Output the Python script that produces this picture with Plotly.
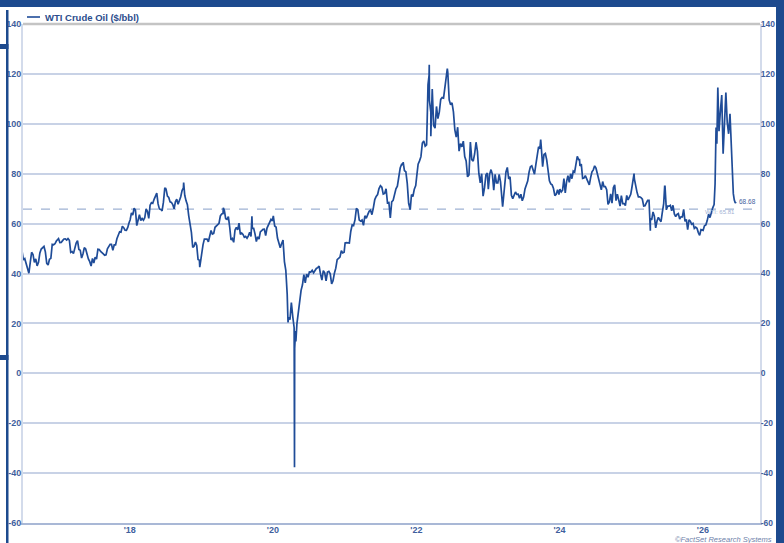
import pandas as pd
import plotly.graph_objects as go

# ---------------- data (weekly closes, $/bbl) ----------------
w2016 = [48.99, 45.41, 45.95, 44.19, 41.60, 40.10, 44.49, 48.52, 47.64, 44.44, 45.88, 43.03, 44.48, 48.24,
         49.81, 50.35, 50.85, 48.70, 44.07, 43.41, 45.69, 46.06, 51.68, 51.50, 51.90, 53.02, 53.72]
w2017 = [53.99, 52.37, 52.42, 53.17, 53.83, 53.86, 53.40, 53.99, 53.33, 48.49, 48.78, 47.97, 50.60, 52.24,
         53.18, 49.62, 49.33, 46.22, 47.84, 50.33, 49.80, 47.66, 45.83, 44.74, 43.01, 46.04, 44.23, 46.54,
         45.77, 49.71, 49.58, 48.82, 48.51, 47.87, 47.29, 47.48, 49.89, 50.55, 51.67, 51.67, 49.29, 51.45,
         51.47, 53.90, 55.64, 56.74, 56.55, 58.95, 58.36, 57.36, 57.30, 58.47, 60.42]
w2018 = [61.44, 64.30, 63.37, 66.14, 65.45, 59.20, 61.68, 63.55, 61.25, 62.04, 61.36, 62.34, 65.88, 64.94,
         62.06, 67.39, 68.38, 68.10, 69.72, 70.70, 72.24, 67.88, 65.81, 65.74, 65.06, 68.58, 74.15, 73.80,
         71.01, 70.46, 68.69, 68.49, 67.63, 65.91, 68.72, 69.80, 67.75, 68.99, 70.78, 73.25, 74.34, 71.34,
         69.12, 67.59, 63.14, 60.19, 56.46, 50.42, 50.93, 52.61, 51.20, 45.59, 45.33, 45.41]
w2019 = [47.96, 51.59, 53.80, 53.69, 53.79, 52.72, 55.59, 57.26, 55.80, 56.07, 58.52, 59.04, 59.94, 60.14,
         63.08, 63.89, 64.00, 65.21, 61.94, 61.66, 62.76, 58.63, 53.50, 53.99, 52.51, 57.43, 58.47, 57.51,
         60.21, 55.63, 56.20, 55.66, 54.50, 54.87, 54.17, 55.10, 56.52, 54.85, 58.09, 58.09, 55.91, 52.81,
         54.70, 53.78, 56.66, 57.24, 57.72, 57.77, 55.17, 58.20, 59.20, 60.44, 61.72, 61.06]
w2020 = [63.05, 59.04, 58.54, 54.19, 51.56, 50.32, 52.05, 53.38, 44.76, 41.28, 31.73, 22.43, 21.51, 28.34,
         22.76, 18.27, 16.94, 19.78, 24.74, 29.43, 33.25, 35.49, 39.55, 36.26, 39.75, 38.49, 40.65, 40.59,
         41.29, 40.27, 41.22, 42.01, 42.34, 42.97, 39.77, 37.33, 41.11, 40.25, 37.05, 40.60, 40.88, 39.85,
         35.79, 37.14, 40.13, 42.15, 45.53, 46.26, 46.57, 49.10, 48.23, 48.52]
w2021 = [52.24, 52.36, 52.27, 52.20, 56.85, 59.47, 59.24, 61.50, 66.09, 65.61, 61.42, 60.97, 61.45, 59.32,
         63.13, 62.14, 63.58, 64.90, 65.37, 63.58, 66.32, 69.62, 70.91, 71.64, 74.05, 75.16, 74.56, 71.81,
         72.07, 73.95, 68.28, 68.44, 62.32, 68.74, 69.29, 71.97, 73.98, 75.03, 79.35, 82.28, 83.76, 83.57,
         81.27, 80.79, 76.10, 68.15, 66.26, 71.67, 70.86, 73.79, 75.21]
w2022 = [78.90, 83.82, 85.14, 86.82, 92.31, 93.10, 91.07, 91.59, 115.68, 109.33, 104.70, 113.90, 99.27,
         98.26, 106.95, 102.07, 104.69, 109.77, 110.49, 110.28, 115.07, 118.87, 120.67, 109.56, 107.62,
         108.43, 104.79, 97.59, 94.70, 98.62, 89.01, 92.09, 90.77, 93.06, 86.87, 85.11, 78.74, 79.49, 92.64,
         85.61, 85.05, 87.90, 92.61, 88.96, 80.08, 76.28, 79.98, 71.02, 74.29, 79.56, 80.26]
w2023 = [73.77, 79.86, 81.64, 79.68, 73.39, 79.72, 76.34, 76.32, 79.68, 76.68, 66.74, 69.26, 75.67, 80.70,
         82.52, 77.87, 78.76, 71.34, 70.04, 71.55, 72.67, 71.74, 71.78, 70.17, 71.78, 69.16, 70.64, 73.86,
         75.42, 77.07, 80.58, 82.82, 83.19, 81.25, 79.83, 83.63, 87.51, 90.77, 90.03, 90.79, 82.79, 87.69,
         88.08, 85.54, 80.51, 77.17, 75.89, 75.54, 74.07, 71.23, 71.78, 73.56, 71.65]
w2024 = [73.81, 72.68, 73.41, 78.01, 72.28, 76.84, 79.19, 76.49, 79.97, 78.01, 81.04, 80.63, 83.17, 86.91,
         85.66, 83.14, 83.85, 78.11, 78.26, 79.23, 77.72, 76.99, 75.53, 78.45, 80.73, 81.54, 83.16, 82.21,
         80.13, 78.28, 76.16, 73.52, 76.84, 74.83, 74.83, 73.55, 67.67, 68.65, 71.92, 68.18, 74.38, 75.56,
         69.22, 71.78, 69.49, 67.02, 71.24, 68.00, 68.00, 67.20, 71.29, 69.46, 70.60, 71.72]
w2025 = [73.96, 76.57, 77.88, 74.66, 72.53, 70.70, 70.74, 70.40, 69.76, 67.04, 67.18, 68.28, 69.36, 69.36,
         61.99, 61.50, 64.68, 63.02, 58.29, 61.02, 62.49, 61.53, 60.79, 64.58, 68.04, 74.93, 65.52, 67.00,
         66.98, 67.34, 65.16, 67.33, 63.88, 62.80, 63.66, 64.01, 61.87, 62.69, 62.68, 65.72, 60.88, 61.69,
         57.54, 61.50, 60.98, 59.75, 60.09, 58.06, 58.55, 58.10, 56.40, 55.30, 57.60, 57.40]
d2026 = ["2026-01-02", "2026-01-09", "2026-01-16", "2026-01-23", "2026-01-30", "2026-02-06", "2026-02-13",
         "2026-02-20", "2026-02-27", "2026-03-04", "2026-03-09", "2026-03-13", "2026-03-18", "2026-03-24",
         "2026-03-31", "2026-04-07", "2026-04-14", "2026-04-21", "2026-04-28", "2026-05-05", "2026-05-12",
         "2026-05-19", "2026-05-26", "2026-06-01", "2026-06-05", "2026-06-10", "2026-06-15", "2026-06-19"]
v2026 = [57.3, 59.1, 59.5, 61.2, 63.8, 62.4, 64.9, 66.3, 67.6, 76.0, 98.5, 92.0, 114.5, 97.0, 105.0,
         111.5, 88.0, 102.0, 112.5, 100.5, 96.0, 104.0, 88.0, 80.0, 72.0, 69.4, 68.3, 68.68]

# notable daily extremes
spike_dates = ["2018-07-03", "2018-10-03", "2018-12-24", "2019-04-23", "2019-09-16", "2020-03-18",
               "2020-04-20", "2020-04-21", "2020-04-27", "2021-10-26", "2021-12-01", "2022-03-07",
               "2022-03-08", "2022-03-16", "2022-06-08", "2023-03-17", "2023-09-27", "2024-04-12",
               "2025-01-15", "2025-04-08", "2025-06-20"]
spike_vals = [74.14, 76.41, 42.53, 66.30, 62.90, 20.37, -37.63, 10.01, 12.78, 84.65, 65.57, 119.40,
              123.70, 95.04, 122.11, 66.74, 93.68, 85.66, 80.04, 57.13, 74.93]

ref_level = 65.81
ref_label = "WTI: 65.81"
last_label = "68.68"
series_name = "WTI Crude Oil ($/bbl)"
y_ticks = [-60, -40, -20, 0, 20, 40, 60, 80, 100, 120, 140]
y_ticktext = ["-60", "-40", "-20", "0", "20", "40", "60", "80", "100", "120", "140"]
x_tickvals = ["2018-01-01", "2020-01-01", "2022-01-01", "2024-01-01", "2026-01-01"]
x_ticktext = ["'18", "'20", "'22", "'24", "'26"]

# ---------------- assemble ----------------
frames = [pd.DataFrame({"d": pd.date_range("2016-07-01", "2016-12-30", periods=len(w2016)), "v": w2016})]
for yr, lst in [(2017, w2017), (2018, w2018), (2019, w2019), (2020, w2020), (2021, w2021),
                (2022, w2022), (2023, w2023), (2024, w2024), (2025, w2025)]:
    frames.append(pd.DataFrame({"d": pd.date_range(f"{yr}-01-03", f"{yr}-12-29", periods=len(lst)), "v": lst}))
frames.append(pd.DataFrame({"d": pd.to_datetime(d2026), "v": v2026}))
frames.append(pd.DataFrame({"d": pd.to_datetime(spike_dates), "v": spike_vals}))
df = pd.concat(frames).sort_values("d").reset_index(drop=True)

LINE = "#1f4c98"
FRAME = "#1d4a8e"
TICKC = "#3f5f9e"
GRID = "#c8d2e6"

W, H = 784, 543
L, R, T, B = 23, 24, 24, 20
pw, ph = W - L - R, H - T - B


def px(x):
    return (x - L) / pw


def py(y):
    return (H - B - y) / ph


fig = go.Figure()
fig.add_trace(go.Scatter(x=df["d"], y=df["v"], mode="lines", line=dict(color=LINE, width=1.7),
                         showlegend=False, hoverinfo="skip"))
fig.add_trace(go.Scatter(x=[df["d"].iloc[0]], y=[0], yaxis="y2", mode="markers",
                         marker=dict(opacity=0), showlegend=False, hoverinfo="skip"))

tickfont = dict(family="Liberation Sans Narrow, Arial Narrow, Liberation Sans, Arial", size=9,
                color=TICKC, weight="bold")
rtickfont = dict(tickfont, size=8.5)

fig.update_layout(
    width=W, height=H, margin=dict(l=L, r=R, t=T, b=B, autoexpand=False),
    paper_bgcolor="white", plot_bgcolor="white",
    xaxis=dict(range=["2016-07-06", "2026-10-19"], tickvals=x_tickvals, ticktext=x_ticktext,
               showgrid=False, zeroline=False, showline=True, linecolor="#a9b8d6", linewidth=1.5,
               ticks="", tickfont=tickfont, automargin=False, ticklabelstandoff=-3),
    yaxis=dict(range=[-60, 140], tickvals=y_ticks, ticktext=y_ticktext, showgrid=True, gridcolor=GRID,
               gridwidth=1.5, zeroline=False, showline=True, linecolor="#d3dbeb", linewidth=2, ticks="",
               tickfont=tickfont, ticklabelstandoff=-2, automargin=False),
    yaxis2=dict(range=[-60, 140], tickvals=y_ticks, ticktext=y_ticktext, overlaying="y", side="right",
                showgrid=False, zeroline=False, showline=True, linecolor="#d3dbeb", linewidth=2, ticks="",
                tickfont=rtickfont, ticklabelstandoff=-3, automargin=False),
)

shapes = [
    # dashed reference line
    dict(type="line", xref="paper", yref="y", x0=0, x1=1, y0=ref_level, y1=ref_level,
         line=dict(color="#9fb2d4", width=1.2, dash="dash"), layer="below"),
    # top border of plot
    dict(type="line", xref="paper", yref="paper", x0=0, x1=1, y0=1, y1=1,
         line=dict(color="#c4c4c4", width=2.5)),
    # frame: top band
    dict(type="rect", xref="paper", yref="paper", x0=px(0), x1=px(W), y0=py(7), y1=py(0),
         fillcolor=FRAME, line=dict(width=0)),
    # right band
    dict(type="rect", xref="paper", yref="paper", x0=px(776), x1=px(W), y0=py(H), y1=py(0),
         fillcolor=FRAME, line=dict(width=0)),
    # left thin bar
    dict(type="rect", xref="paper", yref="paper", x0=px(6), x1=px(8.5), y0=py(H), y1=py(10),
         fillcolor=FRAME, line=dict(width=0)),
    # left notches
    dict(type="rect", xref="paper", yref="paper", x0=px(0), x1=px(8.5), y0=py(49), y1=py(44),
         fillcolor=FRAME, line=dict(width=0)),
    dict(type="rect", xref="paper", yref="paper", x0=px(0), x1=px(8.5), y0=py(360), y1=py(355),
         fillcolor=FRAME, line=dict(width=0)),
    # legend sample line
    dict(type="line", xref="paper", yref="paper", x0=px(27), x1=px(40), y0=py(17), y1=py(17),
         line=dict(color=LINE, width=1.6)),
]
fig.update_layout(shapes=shapes)

fig.add_annotation(x=px(43), y=py(17), xref="paper", yref="paper", text=series_name, showarrow=False,
                   xanchor="left", yanchor="middle",
                   font=dict(family="Liberation Sans Narrow, Arial Narrow, Liberation Sans, Arial", size=9.5,
                             color="#2b4c8c", weight="bold"))
fig.add_annotation(x=df["d"].iloc[-1], y=68.68, xref="x", yref="y", text=last_label, showarrow=False,
                   xanchor="left", yanchor="middle", xshift=1,
                   font=dict(family="Liberation Sans Narrow, Liberation Sans, Arial", size=6.5, color="#3f5f9e"))
fig.add_annotation(x=px(737), y=py(212), xref="paper", yref="paper", text=ref_label, showarrow=False,
                   xanchor="right", yanchor="middle",
                   font=dict(family="Liberation Sans Narrow, Liberation Sans, Arial", size=6, color="#9fb2d4"))
fig.add_annotation(x=px(774), y=py(539), xref="paper", yref="paper", text="<i>©FactSet Research Systems</i>",
                   showarrow=False, xanchor="right", yanchor="middle",
                   font=dict(family="Liberation Sans, Arial", size=7.5, color="#6f82aa"))

fig.write_html("out.html")
